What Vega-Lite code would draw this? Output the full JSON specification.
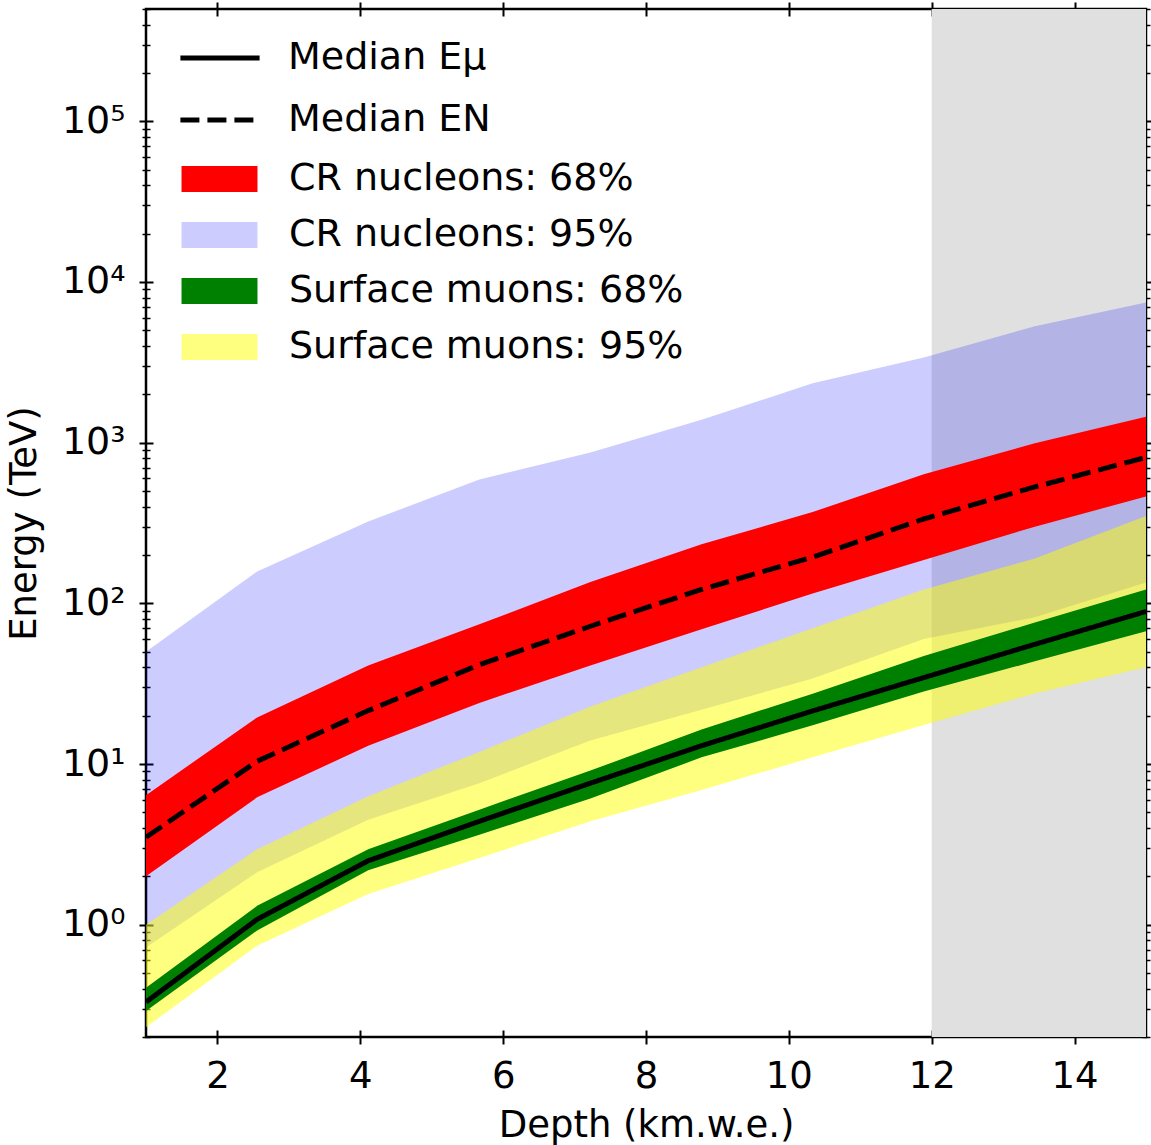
{
  "$schema": "https://vega.github.io/schema/vega-lite/v6.json",
  "width": 1000,
  "height": 1028,
  "autosize": {"type": "none"},
  "padding": {"left": 146, "top": 9, "right": 5, "bottom": 108},
  "background": "white",
  "config": {
    "view": {"stroke": "black", "strokeWidth": 2.5},
    "font": "DejaVu Sans",
    "axis": {"labelFont": "DejaVu Sans", "titleFont": "DejaVu Sans", "labelFontSize": 37, "titleFontSize": 37, "titleFontWeight": "normal", "labelColor": "black", "titleColor": "black", "tickColor": "black", "grid": false, "domain": false},
    "legend": {"labelFont": "DejaVu Sans", "labelFontSize": 38, "labelColor": "black", "padding": 0, "orient": "none", "labelLimit": 600}
  },
  "datasets": {
    "shade": [{"a": 12, "b": 15}],
    "bands": [
      {"d": 1, "band": "CR nucleons: 68%", "lo": 2.0, "hi": 6.4},
      {"d": 2.556, "band": "CR nucleons: 68%", "lo": 6.2, "hi": 19.5},
      {"d": 4.111, "band": "CR nucleons: 68%", "lo": 13, "hi": 41},
      {"d": 5.667, "band": "CR nucleons: 68%", "lo": 24, "hi": 74},
      {"d": 7.222, "band": "CR nucleons: 68%", "lo": 41, "hi": 136},
      {"d": 8.778, "band": "CR nucleons: 68%", "lo": 69, "hi": 233},
      {"d": 10.333, "band": "CR nucleons: 68%", "lo": 115, "hi": 370},
      {"d": 11.889, "band": "CR nucleons: 68%", "lo": 186, "hi": 636},
      {"d": 13.444, "band": "CR nucleons: 68%", "lo": 300, "hi": 990},
      {"d": 15, "band": "CR nucleons: 68%", "lo": 462, "hi": 1450},
      {"d": 1, "band": "CR nucleons: 95%", "lo": 0.72, "hi": 50},
      {"d": 2.556, "band": "CR nucleons: 95%", "lo": 2.12, "hi": 158},
      {"d": 4.111, "band": "CR nucleons: 95%", "lo": 4.5, "hi": 323},
      {"d": 5.667, "band": "CR nucleons: 95%", "lo": 7.6, "hi": 590},
      {"d": 7.222, "band": "CR nucleons: 95%", "lo": 14, "hi": 870},
      {"d": 8.778, "band": "CR nucleons: 95%", "lo": 21.8, "hi": 1390},
      {"d": 10.333, "band": "CR nucleons: 95%", "lo": 34, "hi": 2340},
      {"d": 11.889, "band": "CR nucleons: 95%", "lo": 60, "hi": 3390},
      {"d": 13.444, "band": "CR nucleons: 95%", "lo": 82, "hi": 5300},
      {"d": 15, "band": "CR nucleons: 95%", "lo": 135, "hi": 7450},
      {"d": 1, "band": "Surface muons: 68%", "lo": 0.29, "hi": 0.405},
      {"d": 2.556, "band": "Surface muons: 68%", "lo": 0.92, "hi": 1.31},
      {"d": 4.111, "band": "Surface muons: 68%", "lo": 2.18, "hi": 2.95},
      {"d": 5.667, "band": "Surface muons: 68%", "lo": 3.63, "hi": 5.2},
      {"d": 7.222, "band": "Surface muons: 68%", "lo": 6.1, "hi": 9.1},
      {"d": 8.778, "band": "Surface muons: 68%", "lo": 11.0, "hi": 16.4},
      {"d": 10.333, "band": "Surface muons: 68%", "lo": 17.4, "hi": 27.4},
      {"d": 11.889, "band": "Surface muons: 68%", "lo": 28.3, "hi": 47},
      {"d": 13.444, "band": "Surface muons: 68%", "lo": 43.6, "hi": 76},
      {"d": 15, "band": "Surface muons: 68%", "lo": 67, "hi": 122},
      {"d": 1, "band": "Surface muons: 95%", "lo": 0.23, "hi": 1.0},
      {"d": 2.556, "band": "Surface muons: 95%", "lo": 0.74, "hi": 2.95},
      {"d": 4.111, "band": "Surface muons: 95%", "lo": 1.55, "hi": 6.3},
      {"d": 5.667, "band": "Surface muons: 95%", "lo": 2.6, "hi": 11.9},
      {"d": 7.222, "band": "Surface muons: 95%", "lo": 4.4, "hi": 22.8},
      {"d": 8.778, "band": "Surface muons: 95%", "lo": 6.9, "hi": 40},
      {"d": 10.333, "band": "Surface muons: 95%", "lo": 11, "hi": 70},
      {"d": 11.889, "band": "Surface muons: 95%", "lo": 17.5, "hi": 122},
      {"d": 13.444, "band": "Surface muons: 95%", "lo": 27.5, "hi": 190},
      {"d": 15, "band": "Surface muons: 95%", "lo": 40, "hi": 350}
    ],
    "med": [
      {"d": 1, "series": "Median Eμ", "E": 0.33},
      {"d": 2.556, "series": "Median Eμ", "E": 1.08},
      {"d": 4.111, "series": "Median Eμ", "E": 2.5},
      {"d": 5.667, "series": "Median Eμ", "E": 4.4},
      {"d": 7.222, "series": "Median Eμ", "E": 7.6},
      {"d": 8.778, "series": "Median Eμ", "E": 13.0},
      {"d": 10.333, "series": "Median Eμ", "E": 21.4},
      {"d": 11.889, "series": "Median Eμ", "E": 34.5},
      {"d": 13.444, "series": "Median Eμ", "E": 55.6},
      {"d": 15, "series": "Median Eμ", "E": 89},
      {"d": 1, "series": "Median EN", "E": 3.5},
      {"d": 2.556, "series": "Median EN", "E": 10.4},
      {"d": 4.111, "series": "Median EN", "E": 21.5},
      {"d": 5.667, "series": "Median EN", "E": 41.5},
      {"d": 7.222, "series": "Median EN", "E": 72},
      {"d": 8.778, "series": "Median EN", "E": 122},
      {"d": 10.333, "series": "Median EN", "E": 194},
      {"d": 11.889, "series": "Median EN", "E": 335},
      {"d": 13.444, "series": "Median EN", "E": 530},
      {"d": 15, "series": "Median EN", "E": 810}
    ]
  },
  "resolve": {"axis": {"x": "independent", "y": "independent"}},
  "layer": [
    {
      "data": {"name": "shade"},
      "mark": {"type": "rect", "color": "#e0e0e0"},
      "encoding": {
        "x": {"field": "a", "type": "quantitative", "scale": {"domain": [1, 15], "nice": false, "zero": false},
              "axis": {"orient": "bottom", "values": [2, 4, 6, 8, 10, 12, 14], "tickSize": 14, "tickWidth": 2, "offset": -7, "labelPadding": 14, "labelFlush": false, "labelOverlap": false, "title": "Depth (km.w.e.)", "titlePadding": 13}},
        "x2": {"field": "b"}
      }
    },
    {
      "data": {"name": "bands"},
      "transform": [{"filter": "datum.band === 'CR nucleons: 95%'"}],
      "mark": {"type": "area", "clip": true},
      "encoding": {
        "x": {"field": "d", "type": "quantitative", "scale": {"domain": [1, 15], "nice": false, "zero": false},
              "axis": {"orient": "top", "values": [2, 4, 6, 8, 10, 12, 14], "tickSize": 14, "tickWidth": 2, "offset": -7, "labels": false, "title": null}},
        "y": {"field": "lo", "type": "quantitative", "scale": {"type": "log", "domain": [0.2, 500000], "nice": false},
              "axis": {"orient": "left", "values": [1, 10, 100, 1000, 10000, 100000], "tickSize": 14, "tickWidth": 2, "offset": -7, "labelPadding": 14, "labelFontSize": 38, "labelExpr": "'10' + ['⁰','¹','²','³','⁴','⁵'][round(log(datum.value)/LN10)]", "title": "Energy (TeV)", "titlePadding": 18}},
        "y2": {"field": "hi"},
        "fill": {"field": "band", "type": "nominal",
                 "scale": {"domain": ["CR nucleons: 68%", "CR nucleons: 95%", "Surface muons: 68%", "Surface muons: 95%"], "range": ["#ff0000", "rgba(0,0,255,0.2)", "#008000", "rgba(255,255,0,0.5)"]},
                 "legend": {"title": null, "orient": "none", "legendX": 54.5, "legendY": 151, "symbolType": "M-2.11,-0.72L2.11,-0.72L2.11,0.72L-2.11,0.72Z", "symbolSize": 1296, "symbolStrokeWidth": 0, "symbolOpacity": 1, "rowPadding": 18, "labelOffset": 50.5, "labelLimit": 600}}
      }
    },
    {
      "data": {"name": "bands"},
      "transform": [{"filter": "datum.band === 'CR nucleons: 68%'"}],
      "mark": {"type": "area", "clip": true},
      "encoding": {
        "x": {"field": "d", "type": "quantitative", "scale": {"domain": [1, 15], "nice": false, "zero": false}, "axis": null},
        "y": {"field": "lo", "type": "quantitative", "scale": {"type": "log", "domain": [0.2, 500000], "nice": false},
              "axis": {"orient": "left", "values": [0.2, 0.3, 0.4, 0.5, 0.6, 0.7, 0.8, 0.9, 2, 3, 4, 5, 6, 7, 8, 9, 20, 30, 40, 50, 60, 70, 80, 90, 200, 300, 400, 500, 600, 700, 800, 900, 2000, 3000, 4000, 5000, 6000, 7000, 8000, 9000, 20000, 30000, 40000, 50000, 60000, 70000, 80000, 90000, 200000, 300000, 400000, 500000], "tickSize": 8, "tickWidth": 1.5, "offset": -4, "labels": false, "title": null}},
        "y2": {"field": "hi"},
        "fill": {"field": "band", "type": "nominal",
                 "scale": {"domain": ["CR nucleons: 68%", "CR nucleons: 95%", "Surface muons: 68%", "Surface muons: 95%"], "range": ["#ff0000", "rgba(0,0,255,0.2)", "#008000", "rgba(255,255,0,0.5)"]}}
      }
    },
    {
      "data": {"name": "bands"},
      "transform": [{"filter": "datum.band === 'Surface muons: 95%'"}],
      "mark": {"type": "area", "clip": true},
      "encoding": {
        "x": {"field": "d", "type": "quantitative", "scale": {"domain": [1, 15], "nice": false, "zero": false}, "axis": null},
        "y": {"field": "lo", "type": "quantitative", "scale": {"type": "log", "domain": [0.2, 500000], "nice": false},
              "axis": {"orient": "right", "values": [1, 10, 100, 1000, 10000, 100000], "tickSize": 14, "tickWidth": 2, "offset": -7, "labels": false, "title": null}},
        "y2": {"field": "hi"},
        "fill": {"field": "band", "type": "nominal",
                 "scale": {"domain": ["CR nucleons: 68%", "CR nucleons: 95%", "Surface muons: 68%", "Surface muons: 95%"], "range": ["#ff0000", "rgba(0,0,255,0.2)", "#008000", "rgba(255,255,0,0.5)"]}}
      }
    },
    {
      "data": {"name": "bands"},
      "transform": [{"filter": "datum.band === 'Surface muons: 68%'"}],
      "mark": {"type": "area", "clip": true},
      "encoding": {
        "x": {"field": "d", "type": "quantitative", "scale": {"domain": [1, 15], "nice": false, "zero": false}, "axis": null},
        "y": {"field": "lo", "type": "quantitative", "scale": {"type": "log", "domain": [0.2, 500000], "nice": false},
              "axis": {"orient": "right", "values": [0.2, 0.3, 0.4, 0.5, 0.6, 0.7, 0.8, 0.9, 2, 3, 4, 5, 6, 7, 8, 9, 20, 30, 40, 50, 60, 70, 80, 90, 200, 300, 400, 500, 600, 700, 800, 900, 2000, 3000, 4000, 5000, 6000, 7000, 8000, 9000, 20000, 30000, 40000, 50000, 60000, 70000, 80000, 90000, 200000, 300000, 400000, 500000], "tickSize": 8, "tickWidth": 1.5, "offset": -4, "labels": false, "title": null}},
        "y2": {"field": "hi"},
        "fill": {"field": "band", "type": "nominal",
                 "scale": {"domain": ["CR nucleons: 68%", "CR nucleons: 95%", "Surface muons: 68%", "Surface muons: 95%"], "range": ["#ff0000", "rgba(0,0,255,0.2)", "#008000", "rgba(255,255,0,0.5)"]}}
      }
    },
    {
      "data": {"name": "med"},
      "mark": {"type": "line", "color": "black", "strokeWidth": 5, "clip": true},
      "encoding": {
        "x": {"field": "d", "type": "quantitative", "scale": {"domain": [1, 15], "nice": false, "zero": false}, "axis": null},
        "y": {"field": "E", "type": "quantitative", "scale": {"type": "log", "domain": [0.2, 500000], "nice": false}, "axis": null},
        "strokeDash": {"field": "series", "type": "nominal",
                       "scale": {"domain": ["Median Eμ", "Median EN"], "range": [[1, 0], [19, 8]]},
                       "legend": {"title": null, "orient": "none", "legendX": 53.5, "legendY": 28.5, "symbolType": "M-2.2,0L2.2,0", "symbolSize": 1296, "symbolStrokeWidth": 5, "symbolStrokeColor": "black", "rowPadding": 22, "labelOffset": 47.5, "labelLimit": 600}}
      }
    }
  ]
}
